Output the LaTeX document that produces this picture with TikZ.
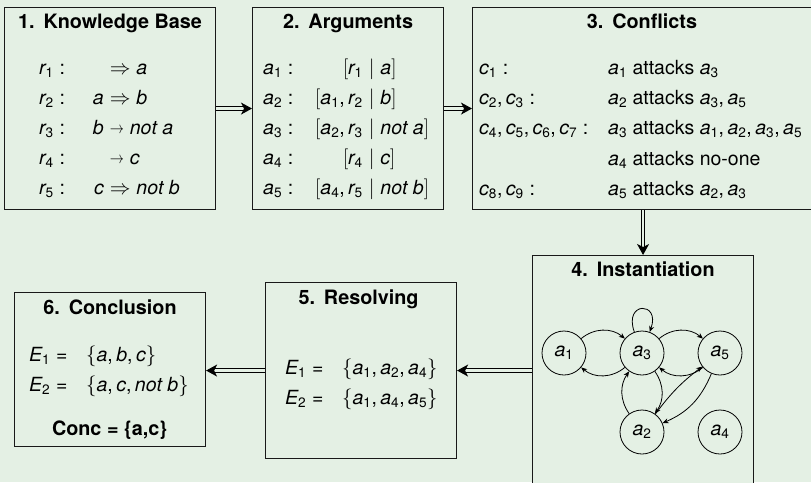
\documentclass[tikz,border=0pt]{standalone}
\usepackage{fontspec}
\setmainfont{TeX Gyre Heros}
\setsansfont{TeX Gyre Heros}
\DeclareSymbolFont{letters}{TU}{\rmdefault}{m}{it}
\SetSymbolFont{letters}{bold}{TU}{\rmdefault}{b}{it}
\DeclareSymbolFont{sfup}{TU}{\rmdefault}{m}{n}
\SetSymbolFont{sfup}{bold}{TU}{\rmdefault}{b}{n}
\AtBeginDocument{%
  \mathcode`0=\numexpr"7000+\symsfup*"100+`0\relax
  \mathcode`1=\numexpr"7000+\symsfup*"100+`1\relax
  \mathcode`2=\numexpr"7000+\symsfup*"100+`2\relax
  \mathcode`3=\numexpr"7000+\symsfup*"100+`3\relax
  \mathcode`4=\numexpr"7000+\symsfup*"100+`4\relax
  \mathcode`5=\numexpr"7000+\symsfup*"100+`5\relax
  \mathcode`6=\numexpr"7000+\symsfup*"100+`6\relax
  \mathcode`7=\numexpr"7000+\symsfup*"100+`7\relax
  \mathcode`8=\numexpr"7000+\symsfup*"100+`8\relax
  \mathcode`9=\numexpr"7000+\symsfup*"100+`9\relax
  \mathcode`\,=\numexpr"6000+\symsfup*"100+`\,\relax
  \mathcode`\:=\numexpr"3000+\symsfup*"100+`\:\relax
  \mathcode`\==\numexpr"3000+\symsfup*"100+`\=\relax
}
\usetikzlibrary{arrows.meta}
\definecolor{bg}{RGB}{228,240,228}
\newcommand{\sarr}{\mathrel{\raisebox{0.5pt}{\scalebox{0.68}[0.8]{$\rightarrow$}}}}
\tikzset{
  box/.style={draw=black!90, line width=1.1pt, fill=bg, anchor=north west, inner sep=0pt},
  ttl/.style={font=\bfseries\fontsize{19.8}{22}\selectfont, anchor=base, inner sep=0pt},
  txt/.style={font=\fontsize{19.5}{22}\selectfont, anchor=base west, inner sep=0pt},
  lft/.style={txt, anchor=base east},
  flow/.style={draw=black, double=bg, double distance=2.2pt, line width=1pt,
    -{Stealth[length=11pt,width=12pt,inset=3pt]}},
  st/.style={circle, draw, line width=0.8pt, minimum size=44pt, inner sep=0pt,
    font=\fontsize{19.5}{22}\selectfont},
  att/.style={line width=0.8pt, -{Stealth[length=6pt,width=5pt]}}
}
\begin{document}
\begin{tikzpicture}[x=1pt,y=-1pt]
\useasboundingbox (0,0) rectangle (811,482);
\fill[bg] (0,0) rectangle (811,482);
\clip (0,0) rectangle (811,482);
% boxes
\node[box, minimum width=211pt, minimum height=202pt] (kb) at (4,7) {};
\node[box, minimum width=191pt, minimum height=202pt] (ar) at (252,7) {};
\node[box, minimum width=358pt, minimum height=202pt] (cf) at (472,7) {};
\node[box, minimum width=221pt, minimum height=250pt] (in) at (532,255) {};
\node[box, minimum width=191pt, minimum height=176pt] (rs) at (265,282) {};
\node[box, minimum width=191pt, minimum height=154pt] (cc) at (14,292) {};
% titles
\node[ttl] (kbt) at ([yshift=-21pt]kb.north) {1.\hspace{0.45em}Knowledge Base};
\node[ttl] (art) at ([yshift=-21pt]ar.north) {2.\hspace{0.45em}Arguments};
\node[ttl] (cft) at (642,28) {3.\hspace{0.45em}Conflicts};
\node[ttl] (int) at ([yshift=-21pt]in.north) {4.\hspace{0.45em}Instantiation};
\node[ttl] (rst) at ([yshift=-22pt,xshift=-2.5pt]rs.north) {5.\hspace{0.45em}Resolving};
\node[ttl] (cct) at ([yshift=-22pt]cc.north) {6.\hspace{0.45em}Conclusion};
% knowledge base
\foreach \i/\l/\r [count=\k from 0] in {1/{}/{\Rightarrow a}, 2/a/{\Rightarrow b},
    3/b/{\sarr not\ a}, 4/{}/{\sarr c}, 5/c/{\Rightarrow not\ b}} {
  \node[txt] (kbl\i) at (39,74+30*\k) {$r_{\i}:$};
  \node[lft] (kbx\i) at (104,74+30*\k) {$\l$};
  \node[txt] (kby\i) at (104,74+30*\k) {${}\r$};
}
% arguments
\foreach \i/\l/\r [count=\k from 0] in {1/{[r_1}/{a]}, 2/{[a_1, r_2}/{b]},
    3/{[a_2, r_3}/{not\ a]}, 4/{[r_4}/{c]}, 5/{[a_4, r_5}/{not\ b]}} {
  \node[txt] (arl\i) at (263,74+30*\k) {$a_{\i}:$};
  \node[lft] (arx\i) at (363,74+30*\k) {$\l$};
  \node[txt] (ary\i) at (363,74+30*\k) {${}\mid \r$};
}
% conflicts
\node[txt] (cl1) at (479,74)  {$c_1:$};
\node[txt] (cl2) at (479,104) {$c_2, c_3:$};
\node[txt] (cl3) at (479,134) {$c_4, c_5, c_6, c_7:$};
\node[txt] (cl5) at (479,195) {$c_8, c_9:$};
\node[txt] (cr1) at (608,74)  {$a_1$ attacks $a_3$};
\node[txt] (cr2) at (608,104) {$a_2$ attacks $a_3, a_5$};
\node[txt] (cr3) at (608,134) {$a_3$ attacks $a_1, a_2, a_3, a_5$};
\node[txt] (cr4) at (608,165) {$a_4$ attacks no-one};
\node[txt] (cr5) at (608,195) {$a_5$ attacks $a_2, a_3$};
% instantiation graph
\node[st] (a1) at (564,353) {$a_1$};
\node[st] (a3) at (642,353) {$a_3$};
\node[st] (a5) at (720,353) {$a_5$};
\node[st] (a2) at (642,432) {$a_2$};
\node[st] (a4) at (720,432) {$a_4$};
\draw[att] (a1) to[bend left=40] (a3);
\draw[att] (a3) to[bend left=40] (a1);
\draw[att] (a3) to[bend left=40] (a5);
\draw[att] (a5) to[bend left=40] (a3);
\draw[att] (a2) to[bend left=35] (a3);
\draw[att] (a3) to[bend left=35] (a2);
\draw[att] (a2) to[bend left=8] (a5);
\draw[att] (a5) to[bend left=22] (a2);
\draw[att] (a3) to[out=110,in=70,looseness=5.5] (a3);
% resolving
\node[txt] (rl1) at (285,374) {$E_1 =$};
\node[txt] (rl2) at (285,404) {$E_2 =$};
\node[txt] (rr1) at (342,374) {$\{a_1, a_2, a_4\}$};
\node[txt] (rr2) at (342,404) {$\{a_1, a_4, a_5\}$};
% conclusion
\node[txt] (cl1b) at (29,361) {$E_1 =$};
\node[txt] (cl2b) at (29,391) {$E_2 =$};
\node[txt] (cr1b) at (86,361) {$\{a, b, c\}$};
\node[txt] (cr2b) at (86,391) {$\{a, c, not\ b\}$};
\node[ttl] (conc) at (109.5,435) {Conc = \{a,c\}};
% flow arrows
\draw[flow] (kb.east) -- (ar.west);
\draw[flow] (ar.east) -- (cf.west);
\draw[flow] (in.north |- cf.south) -- (in.north);
\draw[flow] (rs.east -| in.west) -- (rs.east);
\draw[flow] (rs.west) -- (rs.west -| cc.east);
\end{tikzpicture}
\end{document}
